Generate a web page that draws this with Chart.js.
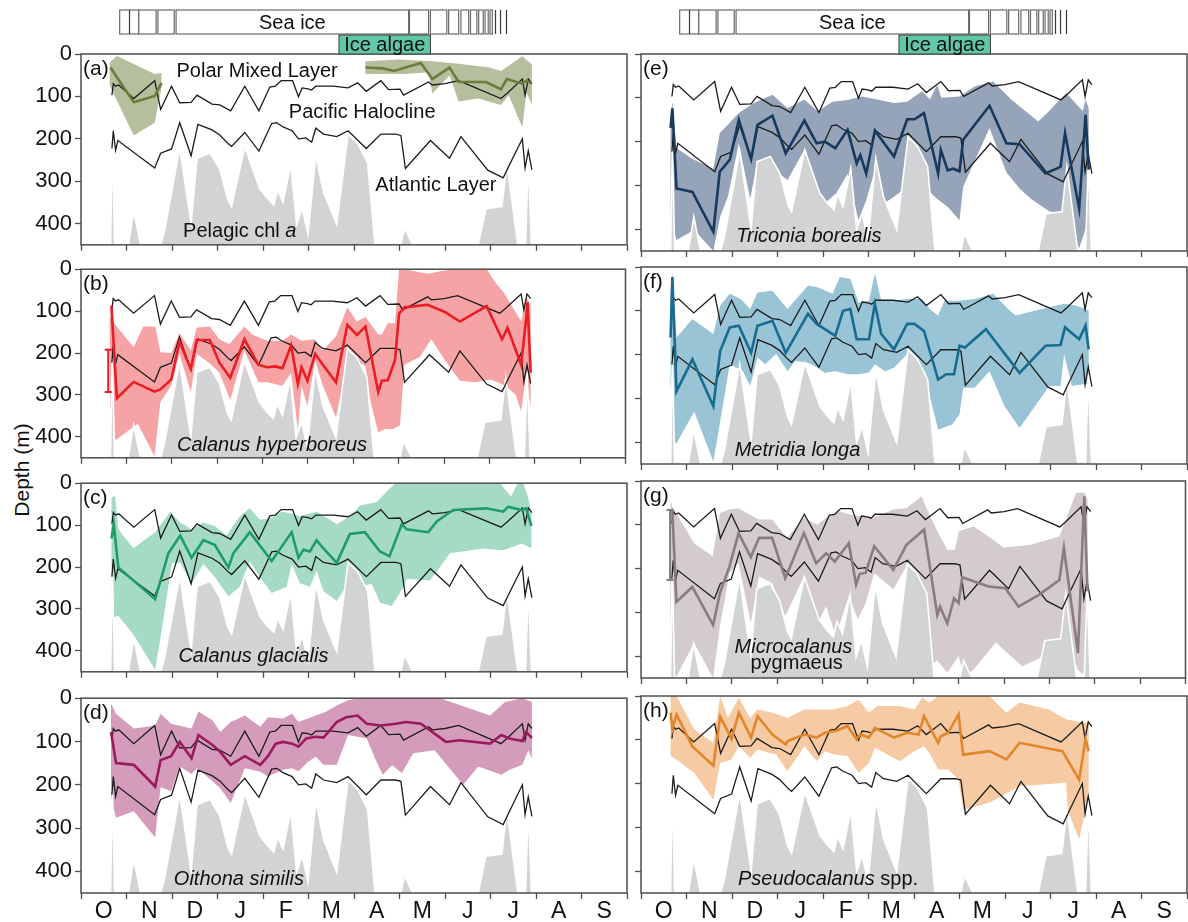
<!DOCTYPE html>
<html>
<head>
<meta charset="utf-8">
<title>Seasonal depth distribution of zooplankton</title>
<script src="https://cdn.jsdelivr.net/npm/chart.js@4.4.1/dist/chart.umd.min.js"></script>
<style>
  html, body { margin: 0; padding: 0; background: #fff; }
  body { width: 1188px; height: 922px; position: relative; overflow: hidden;
         font-family: "Liberation Sans", Arial, sans-serif; }
  .panel { position: absolute; }
  .panel canvas { display: block; }
  #ylab { position: absolute; left: 22px; top: 470px; transform: translate(-50%, -50%) rotate(-90deg);
          font-size: 21px; color: #111; white-space: nowrap; }
</style>
</head>
<body>
<div id="ylab">Depth (m)</div>

<script>
// Time axis: months since 1 October (0 = 1 Oct, 12 = 1 Oct of the next year). Depth in metres.
const monthLabels = ['O', 'N', 'D', 'J', 'F', 'M', 'A', 'M', 'J', 'J', 'A', 'S'];
const depthTicks = [0, 100, 200, 300, 400];

// Pelagic chlorophyll a, drawn as a profile rising from 450 m
const chlProfile = [[0.65,450],[0.69,205],[0.74,450],[1.04,450],[1.16,372],[1.31,450],[1.75,450],[1.83,420],
  [2.17,222],[2.42,400],[2.55,246],[2.84,234],[3.05,272],[3.23,345],[3.31,360],[3.6,219],[3.93,318],[4.1,341],
  [4.24,356],[4.32,321],[4.44,349],[4.61,261],[4.74,402],[4.86,364],[4.99,425],[5.16,238],[5.33,326],[5.62,402],
  [5.87,189],[6.08,211],[6.3,257],[6.46,450],[7.03,450],[7.11,410],[7.29,450],[8.73,450],[8.9,365],[9.25,360],
  [9.36,258],[9.6,450],[9.77,450],[9.83,245],[9.9,450]];

// Base of the Polar Mixed Layer
const pmlBase = [[0.68,97],[0.71,70],[0.76,76],[0.83,73],[1.16,105],[1.62,63],[1.75,131],[1.99,76],[2.17,115],
  [2.42,114],[2.55,97],[2.88,118],[3.05,120],[3.29,134],[3.6,76],[3.91,134],[4.15,78],[4.27,76],[4.4,63],[4.65,63],
  [4.78,101],[4.86,80],[4.99,82],[5.07,85],[5.16,76],[5.54,76],[5.87,80],[6.08,68],[6.27,88],[6.59,63],[6.76,84],
  [7.01,83],[7.09,97],[7.64,66],[7.72,73],[8.0,70],[8.3,63],[9.23,105],[9.36,93],[9.7,59],[9.76,97],[9.83,59],[9.91,70]];

// Base of the Pacific Halocline (top of the Atlantic Layer)
const haloclineBase = [[0.68,223],[0.71,181],[0.76,227],[0.81,204],[1.62,269],[1.75,234],[1.99,224],[2.17,162],
  [2.42,240],[2.57,166],[2.88,179],[3.05,191],[3.23,211],[3.31,218],[3.6,185],[3.91,229],[4.19,164],[4.3,162],
  [4.44,172],[4.64,181],[4.78,200],[4.94,198],[5.07,208],[5.16,175],[5.33,189],[5.62,195],[5.87,181],[6.27,223],
  [6.59,189],[6.92,189],[7.03,192],[7.13,270],[7.68,204],[8.1,246],[8.35,195],[8.94,274],[9.28,292],[9.4,265],
  [9.7,200],[9.76,269],[9.83,228],[9.91,273]];

// Sea-ice periods shown in the strip above the top panels, plus thin single marks
const seaIceBoxes = [[0.85,1.27],[1.27,1.65],[1.69,2.05],[2.09,7.2],[7.22,7.64],[7.68,8.04],[8.08,8.3],
  [8.35,8.52],[8.56,8.7],[8.74,8.84],[8.88,8.95],[8.99,9.04]];
const seaIceMarks = [1.05, 9.1, 9.2, 9.33];
const iceAlgaePeriod = [5.67, 7.68];

// Weighted mean depth (mean) with the shallow and deep bounds of the distribution (band).
// Each deep edge is listed from July back to October so that the band closes as one shape.

// (a) Polar Mixed Layer residents, two sampling periods
const pmlMeanAutumn = [[0.65,32],[0.79,55],[1.16,114],[1.62,99],[1.77,68]];
const pmlTopAutumn = [[0.63,20],[0.79,5],[1.62,47],[1.77,45]];
const pmlDeepAutumn = [[1.77,80],[1.62,162],[1.16,192],[0.63,74]];
const pmlMeanSpring = [[6.25,32],[6.63,34],[6.88,40],[7.13,32],[7.47,21],[7.72,59],[8.1,32],[8.3,66],[8.9,66],
  [9.23,83],[9.36,59],[9.7,70],[9.79,63],[9.91,70]];
const pmlTopSpring = [[6.25,17],[6.97,13],[7.72,17],[8.3,23],[8.98,32],[9.23,40],[9.4,28],[9.7,5],[9.79,14],[9.91,24]];
const pmlDeepSpring = [[9.91,120],[9.79,90],[9.7,173],[9.4,97],[9.23,120],[8.73,105],[8.3,112],[8.1,51],[7.72,93],
  [7.64,43],[7.13,47],[6.25,47]];

// (b) Calanus hyperboreus
const hypMean = [[0.67,87],[0.79,308],[1.16,269],[1.62,292],[1.75,287],[1.99,263],[2.17,173],[2.42,238],[2.55,169],
  [2.84,169],[3.05,223],[3.29,259],[3.6,167],[3.91,228],[4.1,234],[4.28,232],[4.44,236],[4.63,182],[4.78,274],
  [4.86,234],[4.99,266],[5.16,202],[5.33,228],[5.62,270],[5.87,133],[6.08,157],[6.27,137],[6.55,293],[6.63,266],
  [6.76,265],[6.92,217],[7.01,106],[7.13,91],[7.64,85],[8.02,102],[8.35,125],[8.94,88],[9.28,167],[9.4,140],
  [9.7,228],[9.81,118],[9.84,79],[9.91,247]];
const hypTop = [[0.63,114],[0.79,137],[1.16,186],[1.37,137],[1.64,137],[1.75,198],[1.99,200],[2.17,152],[2.42,194],
  [2.55,139],[2.84,137],[3.05,167],[3.27,179],[3.6,137],[3.77,156],[4.1,171],[4.44,171],[4.63,156],[4.86,171],
  [5.16,167],[5.33,194],[5.62,160],[5.87,91],[6.08,125],[6.27,114],[6.55,156],[6.63,156],[6.76,129],[6.92,129],
  [7.01,0],[7.13,0],[7.64,11],[8.02,3],[8.35,0],[8.94,0],[9.15,34],[9.32,56],[9.7,125],[9.81,64],[9.91,87]];
const hypDeep = [[9.91,331],[9.81,250],[9.7,339],[9.58,300],[9.36,278],[9.03,263],[8.69,270],[8.35,266],[8.02,217],
  [7.72,167],[7.47,209],[7.13,228],[7.03,373],[6.88,381],[6.71,381],[6.55,389],[6.38,316],[6.27,232],[6.08,217],
  [5.87,225],[5.62,354],[5.45,310],[5.33,278],[5.16,217],[4.99,327],[4.86,278],[4.78,385],[4.63,247],[4.44,278],
  [4.1,270],[3.91,270],[3.6,194],[3.29,312],[3.05,247],[2.84,225],[2.55,202],[2.42,293],[2.17,202],[1.99,278],
  [1.75,316],[1.62,446],[1.25,369],[0.76,408],[0.65,331]];
const hypFirstRange = [0.6, 192, 293];

// (c) Calanus glacialis
const glaMean = [[0.67,132],[0.72,98],[0.82,201],[1.63,277],[1.92,167],[2.18,125],[2.43,178],[2.69,136],[2.94,147],
  [3.24,201],[3.35,167],[3.71,117],[4.19,186],[4.63,117],[4.78,178],[4.89,159],[5.03,163],[5.18,136],[5.29,151],
  [5.62,190],[5.91,121],[6.24,117],[6.57,163],[6.78,174],[7.05,98],[7.16,110],[7.63,117],[7.82,91],[8.18,64],
  [8.91,60],[9.28,68],[9.39,56],[9.68,64],[9.78,60],[9.9,102]];
const glaTop = [[0.67,34],[0.75,30],[0.82,110],[1.15,155],[1.63,117],[1.96,68],[2.18,94],[2.43,110],[2.69,94],
  [2.94,102],[3.2,125],[3.49,79],[3.71,60],[3.93,87],[4.19,83],[4.41,68],[4.63,72],[4.81,79],[5.18,68],[5.47,87],
  [5.62,98],[5.91,79],[6.13,53],[6.5,45],[6.9,0],[9.21,0],[9.45,32],[9.6,0],[9.72,0],[9.83,35],[9.9,72]];
const glaDeep = [[9.9,155],[9.69,144],[9.28,160],[8.84,156],[8.11,167],[7.67,232],[7.16,228],[7.09,247],[6.83,293],
  [6.57,285],[6.39,240],[6.13,247],[5.91,232],[5.62,281],[5.33,258],[5.18,209],[5.03,247],[4.81,239],[4.63,193],
  [4.52,247],[4.19,262],[3.93,224],[3.71,186],[3.49,247],[3.24,270],[2.94,224],[2.69,193],[2.43,240],[2.18,190],
  [2.0,190],[1.77,353],[1.63,445],[1.15,361],[0.82,316],[0.67,323]];

// (d) Oithona similis
const oitMean = [[0.66,78],[0.77,150],[1.16,154],[1.63,204],[1.75,143],[1.98,134],[2.17,101],[2.43,139],[2.58,85],
  [2.89,108],[3.06,124],[3.29,154],[3.6,134],[3.94,154],[4.11,134],[4.28,105],[4.44,101],[4.64,105],[4.78,112],
  [4.95,93],[5.16,89],[5.33,91],[5.62,55],[5.83,44],[6.08,40],[6.28,59],[6.59,63],[6.92,59],[7.14,55],[7.47,59],
  [8.02,101],[8.31,97],[8.99,105],[9.24,85],[9.41,93],[9.7,99],[9.78,78],[9.91,92]];
const oitTop = [[0.66,13],[0.77,36],[1.16,70],[1.63,63],[1.75,36],[1.98,59],[2.43,70],[2.58,31],[2.89,51],[3.06,78],
  [3.29,55],[3.6,40],[3.94,66],[4.11,44],[4.44,47],[4.64,36],[4.78,55],[5.16,40],[5.37,32],[5.62,17],[5.87,5],
  [6.08,0],[7.89,0],[8.99,40],[9.32,9],[9.7,0],[9.91,9]];
const oitDeep = [[9.91,139],[9.83,120],[9.7,154],[9.41,166],[9.24,177],[8.73,158],[8.4,200],[7.77,120],[7.3,127],
  [7.05,173],[6.84,155],[6.63,177],[6.46,139],[6.28,93],[6.08,89],[5.87,85],[5.62,154],[5.33,154],[5.16,135],
  [4.99,147],[4.78,169],[4.64,162],[4.44,165],[4.11,181],[3.94,170],[3.6,162],[3.29,242],[3.06,208],[2.89,192],
  [2.55,162],[2.43,175],[2.17,158],[1.98,215],[1.75,205],[1.63,322],[1.16,261],[0.77,276],[0.66,231]];

// (e) Triconia borealis
const triMean = [[0.65,169],[0.69,124],[0.78,307],[1.13,315],[1.59,406],[1.73,269],[1.95,242],[2.15,150],[2.42,240],
  [2.56,162],[2.89,141],[3.18,227],[3.59,152],[3.86,204],[4.04,200],[4.27,215],[4.54,173],[4.74,250],[4.82,231],
  [4.95,273],[5.14,175],[5.56,234],[5.85,149],[6.01,149],[6.22,135],[6.53,273],[6.59,219],[6.74,266],[6.86,262],
  [7.0,268],[7.08,196],[7.66,118],[8.03,204],[8.32,206],[8.89,273],[9.22,258],[9.32,181],[9.63,353],[9.77,139],[9.84,264]];
const triTop = [[0.65,140],[0.69,110],[0.78,215],[1.13,240],[1.59,262],[1.73,181],[2.15,135],[2.48,112],[2.89,93],
  [3.22,124],[3.59,104],[3.88,131],[4.21,109],[4.54,105],[4.86,97],[5.19,104],[5.56,112],[5.85,109],[6.18,85],
  [6.35,104],[6.51,70],[6.6,100],[7.0,97],[7.33,74],[7.74,63],[8.15,105],[8.73,154],[8.97,130],[9.34,89],[9.71,130],
  [9.77,104],[9.84,124]];
const triDeep = [[9.84,380],[9.77,400],[9.63,444],[9.32,367],[8.97,359],[8.56,330],[8.32,307],[8.03,270],[7.66,169],
  [7.08,303],[7.0,380],[6.75,350],[6.51,331],[6.22,303],[6.01,320],[5.85,303],[5.56,326],[5.36,340],[5.14,265],
  [4.95,334],[4.78,380],[4.54,274],[4.29,318],[4.04,341],[3.86,303],[3.59,219],[3.22,288],[2.97,267],[2.56,242],
  [2.4,331],[2.15,204],[1.91,326],[1.74,372],[1.59,450],[1.17,402],[0.78,425],[0.65,379]];

// (f) Metridia longa
const metMean = [[0.65,161],[0.69,23],[0.78,284],[1.13,211],[1.59,318],[1.74,192],[1.95,138],[2.15,134],[2.42,196],
  [2.56,134],[2.89,123],[3.18,196],[3.67,107],[3.86,130],[4.04,142],[4.27,157],[4.44,100],[4.6,96],[4.74,165],
  [4.82,165],[5.01,165],[5.14,84],[5.28,153],[5.56,188],[5.85,130],[6.01,130],[6.22,146],[6.53,257],[6.71,245],
  [6.88,245],[7.0,180],[7.12,184],[7.58,142],[8.32,242],[8.89,180],[9.22,178],[9.32,138],[9.63,165],[9.77,134],[9.84,188]];
const metTop = [[0.65,60],[0.69,12],[0.78,161],[1.13,119],[1.59,153],[1.74,88],[1.95,61],[2.19,73],[2.4,96],[2.56,58],
  [2.89,54],[3.22,96],[3.67,42],[3.88,46],[4.21,61],[4.37,23],[4.6,27],[4.78,81],[5.01,77],[5.14,15],[5.28,77],
  [5.56,77],[5.85,73],[6.18,73],[6.34,96],[6.53,111],[6.67,77],[6.98,77],[7.33,73],[7.74,61],[8.07,96],[8.23,111],
  [8.97,92],[9.3,84],[9.55,88],[9.77,96],[9.84,100]];
const metDeep = [[9.84,268],[9.71,268],[9.47,272],[9.3,200],[9.22,272],[8.97,272],[8.32,368],[7.99,318],[7.66,238],
  [7.33,276],[7.08,276],[7.0,337],[6.84,360],[6.53,372],[6.34,291],[6.18,238],[5.85,199],[5.56,230],[5.36,238],
  [5.14,222],[5.01,241],[4.78,245],[4.54,245],[4.27,238],[4.04,242],[3.88,230],[3.67,219],[3.39,215],[3.22,238],
  [2.97,199],[2.73,222],[2.56,207],[2.4,272],[2.24,238],[1.95,222],[1.74,353],[1.59,445],[1.17,330],[0.78,403],
  [0.69,400],[0.65,260]];

// (g) Microcalanus pygmaeus
const micMean = [[0.69,66],[0.78,276],[1.13,242],[1.59,329],[1.74,256],[1.95,195],[2.15,119],[2.42,174],[2.6,130],
  [2.89,130],[3.18,222],[3.59,119],[3.86,188],[4.08,165],[4.27,184],[4.58,142],[4.74,237],[4.82,212],[4.95,210],
  [5.14,149],[5.56,203],[5.85,146],[6.24,111],[6.53,306],[6.59,287],[6.75,325],[6.9,268],[7.0,279],[7.08,220],
  [7.66,241],[8.03,245],[8.32,287],[8.77,260],[9.22,226],[9.32,153],[9.63,393],[9.77,35],[9.84,252]];
const micTop = [[0.65,45],[0.69,58],[1.17,142],[1.58,172],[1.74,73],[1.95,65],[2.15,62],[2.4,77],[2.6,88],[2.89,88],
  [3.22,130],[3.59,84],[3.88,100],[4.12,81],[4.37,69],[4.62,77],[4.86,81],[5.11,84],[5.56,65],[5.85,62],[6.18,35],
  [6.34,73],[6.53,115],[6.75,157],[6.92,157],[7.0,115],[7.33,104],[7.66,127],[7.99,152],[8.56,146],[9.22,127],
  [9.59,27],[9.77,27],[9.84,42]];
const micDeep = [[9.84,439],[9.71,439],[9.63,432],[9.34,355],[8.97,396],[8.4,423],[7.82,369],[7.33,431],[7.12,447],
  [7.0,400],[6.75,438],[6.53,410],[6.34,424],[6.24,278],[6.01,226],[5.85,195],[5.56,247],[5.14,210],[4.95,279],
  [4.78,316],[4.58,263],[4.37,330],[4.27,347],[4.08,286],[3.86,331],[3.59,218],[3.18,309],[2.89,233],[2.6,218],
  [2.42,325],[2.15,188],[1.95,211],[1.74,331],[1.59,450],[1.17,370],[0.78,447],[0.65,447]];
const micFirstRange = [0.64, 66, 226];

// (h) Pseudocalanus spp.
const pseMean = [[0.65,38],[0.69,76],[0.78,42],[1.13,115],[1.59,159],[1.74,47],[1.99,98],[2.15,38],[2.42,95],
  [2.56,46],[2.89,88],[3.18,111],[3.22,103],[3.59,88],[3.86,95],[4.04,84],[4.27,80],[4.54,69],[4.74,99],[4.82,88],
  [5.01,95],[5.14,73],[5.56,95],[5.85,84],[6.1,88],[6.22,46],[6.53,107],[6.59,92],[6.75,84],[6.98,42],[7.08,134],
  [7.66,126],[8.03,145],[8.32,107],[9.26,126],[9.63,191],[9.77,99],[9.84,126]];
const pseTop = [[0.65,0],[0.78,0],[1.17,76],[1.59,107],[1.74,0],[1.91,50],[2.15,4],[2.4,50],[2.56,31],[2.89,38],
  [3.22,50],[3.59,31],[4.21,31],[4.54,23],[4.78,8],[5.01,38],[5.19,23],[5.69,23],[6.01,31],[6.18,4],[6.34,15],
  [6.53,0],[7.66,0],[8.03,38],[8.32,15],[8.97,31],[9.34,53],[9.71,61],[9.84,61]];
const pseDeep = [[9.84,214],[9.77,260],[9.63,328],[9.38,260],[9.34,198],[8.32,206],[7.66,244],[7.08,260],[6.98,191],
  [6.75,168],[6.53,168],[6.34,130],[6.22,115],[6.01,126],[5.69,149],[5.14,118],[5.01,153],[4.78,176],[4.54,137],
  [4.27,134],[4.04,126],[3.86,149],[3.59,115],[3.22,172],[2.97,134],[2.56,122],[2.4,141],[2.15,115],[1.99,145],
  [1.74,153],[1.59,237],[1.17,176],[0.78,145],[0.65,137]];

// ---------------------------------------------------------------------------
// Panel geometry (plot-area rectangles in page pixels)
const COL_LEFT = [81, 641];
const PLOT_W = 546;
const ROW_TOP = [54, 267, 481, 696];
const PLOT_H = 197;
const FONT = '"Liberation Sans", Arial, sans-serif';

const xy = arr => arr.map(p => ({ x: p[0], y: p[1] }));

function bandSet(top, deep, color) {
  return { data: xy(top.concat(deep)), borderWidth: 0, borderColor: 'rgba(0,0,0,0)',
           backgroundColor: color, fill: 'shape', order: 6, pointRadius: 0 };
}
function meanSet(pts, color) {
  return { data: xy(pts), borderColor: color, borderWidth: 2.6, fill: false, order: 1,
           pointRadius: 0, borderJoinStyle: 'miter' };
}
function rangeSet(r, color) {
  return { data: [{ x: r[0], y: r[1] }, { x: r[0], y: r[2] }], borderColor: color, borderWidth: 2,
           fill: false, order: 2, pointStyle: 'line', pointRadius: 3.5, pointBorderWidth: 2,
           pointBorderColor: color };
}
function backgroundSets() {
  return [
    { data: xy(chlProfile), backgroundColor: '#d2d3d5', borderColor: '#ffffff', borderWidth: 1.6,
      fill: { value: 450 }, order: 5, pointRadius: 0 },
    { data: xy(pmlBase), borderColor: '#1c1c1c', borderWidth: 1.3, fill: false, order: 3, pointRadius: 0 },
    { data: xy(haloclineBase), borderColor: '#1c1c1c', borderWidth: 1.3, fill: false, order: 3, pointRadius: 0 }
  ];
}

const panels = [
  { id: 'a', col: 0, row: 0, iceStrip: true,
    sets: [bandSet(pmlTopAutumn, pmlDeepAutumn, '#b6bf9d'), bandSet(pmlTopSpring, pmlDeepSpring, '#b6bf9d'),
           meanSet(pmlMeanAutumn, '#6a7d3d'), meanSet(pmlMeanSpring, '#6a7d3d')],
    texts: [
      { t: 3.87, d: 41, parts: [['Polar Mixed Layer', false]] },
      { t: 6.18, d: 139, parts: [['Pacific Halocline', false]] },
      { t: 7.8, d: 311, parts: [['Atlantic Layer', false]] },
      { t: 3.49, d: 418, parts: [['Pelagic chl ', false], ['a', true]] }
    ] },
  { id: 'b', col: 0, row: 1,
    sets: [bandSet(hypTop, hypDeep, '#f5a3a5'), meanSet(hypMean, '#ec1c24'), rangeSet(hypFirstRange, '#ec1c24')],
    texts: [{ t: 4.21, d: 420, parts: [['Calanus hyperboreus', true]] }] },
  { id: 'c', col: 0, row: 2,
    sets: [bandSet(glaTop, glaDeep, '#a5dbc5'), meanSet(glaMean, '#1f9d68')],
    texts: [{ t: 3.79, d: 413, parts: [['Calanus glacialis', true]] }] },
  { id: 'd', col: 0, row: 3,
    sets: [bandSet(oitTop, oitDeep, '#d49bbb'), meanSet(oitMean, '#9a1a5c')],
    texts: [{ t: 3.47, d: 418, parts: [['Oithona similis', true]] }] },
  { id: 'e', col: 1, row: 0, iceStrip: true,
    sets: [bandSet(triTop, triDeep, '#95a4b8'), meanSet(triMean, '#17395e')],
    texts: [{ t: 3.69, d: 416, parts: [['Triconia borealis', true]] }] },
  { id: 'f', col: 1, row: 1,
    sets: [bandSet(metTop, metDeep, '#98c4d6'), meanSet(metMean, '#176c8f')],
    texts: [{ t: 3.44, d: 418, parts: [['Metridia longa', true]] }] },
  { id: 'g', col: 1, row: 2,
    sets: [bandSet(micTop, micDeep, '#d3cbcd'), meanSet(micMean, '#8b7c7f'), rangeSet(micFirstRange, '#8b7c7f')],
    texts: [{ t: 3.36, d: 381, parts: [['Microcalanus', true]] },
            { t: 3.43, d: 416, parts: [['pygmaeus', false]] }] },
  { id: 'h', col: 1, row: 3,
    sets: [bandSet(pseTop, pseDeep, '#f6cba4'), meanSet(pseMean, '#e2862c')],
    texts: [{ t: 4.11, d: 420, parts: [['Pseudocalanus', true], [' spp.', false]] }] }
];

// Draws centred text made of plain and italic runs
function drawRuns(ctx, parts, cx, cy, size) {
  const fontOf = it => (it ? 'italic ' : '') + size + 'px ' + FONT;
  let total = 0;
  parts.forEach(p => { ctx.font = fontOf(p[1]); total += ctx.measureText(p[0]).width; });
  let x = cx - total / 2;
  ctx.textBaseline = 'middle';
  ctx.textAlign = 'left';
  parts.forEach(p => { ctx.font = fontOf(p[1]); ctx.fillText(p[0], x, cy); x += ctx.measureText(p[0]).width; });
}

const decorPlugin = {
  id: 'decor',
  afterDatasetsDraw(chart, args, opts) {
    const { ctx, chartArea: a, scales } = chart;
    const sx = scales.x, sy = scales.y;
    ctx.save();
    // frame
    ctx.strokeStyle = '#4d4d4d';
    ctx.lineWidth = 1.5;
    ctx.strokeRect(a.left, a.top, a.right - a.left, a.bottom - a.top);
    // labels
    ctx.fillStyle = '#111';
    ctx.font = '21px ' + FONT;
    ctx.textBaseline = 'middle';
    ctx.textAlign = 'left';
    ctx.fillText('(' + opts.id + ')', a.left + 2, a.top + 15);
    opts.texts.forEach(tx => drawRuns(ctx, tx.parts, sx.getPixelForValue(tx.t), sy.getPixelForValue(tx.d), 20));
    // sea-ice strip and ice-algae period above the top panels
    if (opts.iceStrip) {
      const y0 = a.top - 44, h = 24;
      ctx.lineWidth = 1.2;
      ctx.strokeStyle = '#6a6a6a';
      ctx.fillStyle = '#fff';
      seaIceBoxes.forEach(b => {
        const x0 = sx.getPixelForValue(b[0]), x1 = sx.getPixelForValue(b[1]);
        ctx.fillRect(x0, y0, x1 - x0, h);
        ctx.strokeRect(x0, y0, x1 - x0, h);
      });
      ctx.strokeStyle = '#3a3a3a';
      seaIceMarks.forEach(m => {
        const x = Math.round(sx.getPixelForValue(m)) + 0.5;
        ctx.beginPath(); ctx.moveTo(x, y0); ctx.lineTo(x, y0 + h); ctx.stroke();
      });
      const big = seaIceBoxes[3];
      ctx.fillStyle = '#111';
      drawRuns(ctx, [['Sea ice', false]], (sx.getPixelForValue(big[0]) + sx.getPixelForValue(big[1])) / 2, y0 + h / 2 + 1, 20);
      const ax0 = sx.getPixelForValue(iceAlgaePeriod[0]), ax1 = sx.getPixelForValue(iceAlgaePeriod[1]);
      ctx.fillStyle = '#63c6a8';
      ctx.fillRect(ax0, a.top - 19, ax1 - ax0, 19);
      ctx.strokeStyle = '#3d3d3d';
      ctx.lineWidth = 1;
      ctx.strokeRect(ax0, a.top - 19, ax1 - ax0, 19);
      ctx.fillStyle = '#111';
      drawRuns(ctx, [['Ice algae', false]], (ax0 + ax1) / 2, a.top - 9, 20);
    }
    ctx.restore();
  }
};

panels.forEach(p => {
  const padL = p.col === 0 ? 81 : 15;
  const padR = 4;
  const padT = p.row === 0 ? 54 : 14;
  const bottomRow = p.row === 3;
  const padB = bottomRow ? 922 - (ROW_TOP[3] + PLOT_H) : 10;
  const W = PLOT_W + padL + padR, H = PLOT_H + padT + padB;
  const div = document.createElement('div');
  div.className = 'panel';
  div.style.left = (COL_LEFT[p.col] - padL) + 'px';
  div.style.top = (ROW_TOP[p.row] - padT) + 'px';
  div.style.width = W + 'px';
  div.style.height = H + 'px';
  const cv = document.createElement('canvas');
  cv.width = W; cv.height = H;
  cv.style.width = W + 'px'; cv.style.height = H + 'px';
  div.appendChild(cv);
  document.body.appendChild(div);

  new Chart(cv.getContext('2d'), {
    type: 'line',
    data: { datasets: p.sets.concat(backgroundSets()) },
    options: {
      responsive: false,
      animation: false,
      events: [],
      layout: { padding: { top: padT, right: padR, left: 0, bottom: 0 } },
      elements: { line: { tension: 0 }, point: { radius: 0, hoverRadius: 0 } },
      plugins: { legend: { display: false }, tooltip: { enabled: false },
                 decor: { id: p.id, texts: p.texts, iceStrip: !!p.iceStrip } },
      scales: {
        x: {
          type: 'linear', min: 0, max: 12,
          afterBuildTicks: s => { s.ticks = Array.from({ length: 25 }, (_, i) => ({ value: i / 2 })); },
          afterFit: s => { s.height = padB; },
          border: { display: false },
          grid: { drawOnChartArea: false, drawTicks: true, tickLength: 6, tickWidth: 1.3,
                  tickColor: c => (c.tick && c.tick.value % 1 !== 0) ? 'rgba(0,0,0,0)' : '#4d4d4d' },
          ticks: { display: bottomRow, autoSkip: false, maxRotation: 0, minRotation: 0, padding: -1,
                   color: '#111', font: { family: FONT, size: 23 },
                   callback: v => (v % 1 !== 0) ? monthLabels[Math.floor(v)] : '' }
        },
        y: {
          type: 'linear', min: 0, max: 450, reverse: true,
          afterBuildTicks: s => { s.ticks = depthTicks.map(v => ({ value: v })); },
          afterFit: s => { s.width = padL; },
          border: { display: false },
          grid: { drawOnChartArea: false, drawTicks: true, tickLength: 6, tickWidth: 1.3, tickColor: '#4d4d4d' },
          ticks: { display: p.col === 0, padding: 3, color: '#111', font: { family: FONT, size: 22 },
                   callback: v => String(v) }
        }
      }
    },
    plugins: [decorPlugin]
  });
});
</script>
</body>
</html>
